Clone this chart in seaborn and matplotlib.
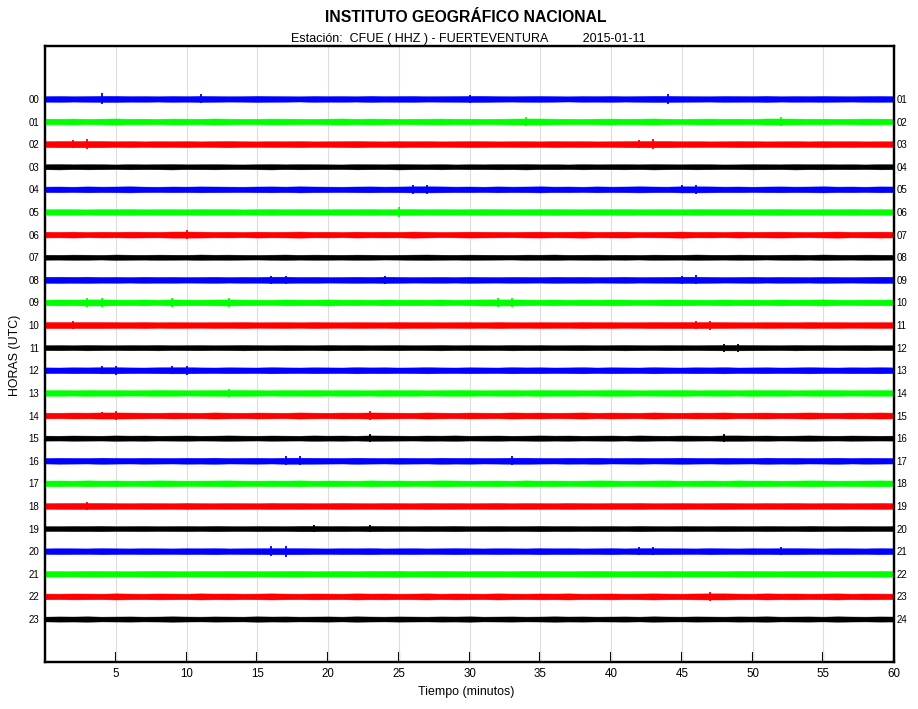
import numpy as np
import matplotlib
matplotlib.use("Agg")
import matplotlib.pyplot as plt
import seaborn as sns

# ---------------- data ----------------
hour_labels_left = [f"{h:02d}" for h in range(24)]
hour_labels_right = [f"{h:02d}" for h in range(1, 25)]
x_ticks = [5, 10, 15, 20, 25, 30, 35, 40, 45, 50, 55, 60]
trace_colors = ["#0000ff", "#00ff00", "#ff0000", "#000000"]

# peak amplitude per minute (0..60) of each hourly trace
amp_00 = [30,32,29,31,48,33,30,31,29,32,30,40,31,29,30,33,31,30,28,32,30,31,29,33,30,31,32,29,30,31,38,33,30,29,31,32,30,28,31,30,32,29,31,33,42,31,30,29,32,31,30,33,29,31,30,32,30,29,31,32,30]
amp_01 = [31,30,32,29,31,33,30,31,29,32,31,30,33,31,29,30,32,31,30,29,31,33,30,32,31,29,30,31,32,30,31,29,30,32,40,33,31,30,29,31,32,30,31,33,30,29,31,32,30,31,29,33,42,32,30,31,29,30,32,31,30]
amp_02 = [32,34,38,42,35,31,33,30,32,31,33,30,32,34,31,30,32,31,33,30,31,32,34,31,30,33,31,32,30,31,33,32,30,31,32,30,33,31,32,30,31,33,36,44,34,31,32,30,31,33,32,30,31,32,30,33,31,32,30,31,32]
amp_03 = [27,29,26,28,27,25,28,26,27,29,26,27,28,26,25,27,29,26,28,27,26,25,28,27,26,29,27,26,28,25,27,26,28,27,29,26,27,25,28,26,27,28,26,29,27,26,28,27,25,26,28,27,26,29,27,28,26,27,25,28,27]
amp_04 = [30,31,29,32,30,31,33,30,29,31,30,32,31,30,29,31,32,30,33,31,30,29,31,32,30,31,38,40,32,30,31,29,32,30,31,33,30,31,29,32,30,31,33,31,30,36,40,32,30,31,29,31,32,30,31,33,30,31,29,32,31]
amp_05 = [29,31,30,28,31,30,32,29,30,31,29,32,30,31,28,30,32,29,31,30,29,31,30,32,29,42,33,30,31,29,30,32,31,29,30,31,33,30,29,31,30,32,29,30,31,29,32,30,31,30,29,31,32,30,29,31,30,32,29,31,30]
amp_06 = [31,30,32,29,31,30,32,31,30,33,40,32,30,31,29,32,30,31,33,30,31,29,32,30,31,30,33,31,29,30,32,31,30,29,31,32,30,31,33,30,31,32,29,30,31,33,30,31,29,32,30,31,32,30,29,31,33,30,31,32,31]
amp_07 = [27,26,28,27,25,29,27,26,28,27,26,29,27,28,26,25,27,29,26,28,27,26,28,27,25,26,28,29,27,26,28,27,26,25,28,27,29,26,27,28,26,27,25,28,27,26,29,27,26,28,27,25,27,28,26,29,27,26,28,27,26]
amp_08 = [33,35,32,34,31,32,30,33,31,32,30,31,33,30,32,31,38,36,31,32,30,31,33,31,36,32,30,31,32,30,33,31,30,32,31,30,33,31,32,30,31,33,30,31,32,36,40,32,30,31,33,30,32,31,30,33,31,30,32,35,33]
amp_09 = [30,32,31,38,40,31,30,32,29,36,31,30,32,36,31,30,29,32,31,30,33,30,31,29,32,30,31,30,32,29,31,33,40,42,31,30,32,29,31,30,32,31,29,30,32,31,30,29,32,30,31,29,32,30,31,33,30,29,31,30,32]
amp_10 = [33,34,35,33,34,32,31,33,30,32,31,30,32,31,33,30,31,32,30,33,31,30,32,31,30,33,31,32,30,31,32,30,33,31,30,32,31,30,33,31,32,30,31,33,32,34,38,40,32,31,30,32,31,30,33,31,32,30,31,32,31]
amp_11 = [27,28,26,29,27,26,28,27,29,26,27,28,26,27,29,27,26,28,27,26,29,27,28,26,27,28,26,27,29,26,28,27,26,29,27,28,26,27,28,26,27,29,27,26,28,27,26,28,34,36,28,27,26,29,27,28,26,27,28,26,27]
amp_12 = [31,30,32,31,35,38,31,30,32,37,38,31,30,32,31,30,33,31,30,32,31,30,33,31,32,30,31,33,31,30,32,31,30,33,31,32,30,31,33,30,32,31,30,33,31,30,32,31,33,30,31,32,30,31,33,31,30,32,31,33,31]
amp_13 = [30,31,29,32,30,31,29,30,32,31,29,30,31,35,32,30,29,31,30,32,29,31,30,29,32,30,31,29,30,32,31,29,30,31,29,32,30,31,29,30,32,31,29,30,31,32,29,30,31,29,32,30,31,29,30,32,31,29,30,31,30]
amp_14 = [31,30,32,31,35,40,32,31,30,32,31,30,33,31,30,32,31,30,33,31,30,32,31,36,32,31,30,33,31,30,32,31,30,33,31,32,30,31,33,30,32,31,30,33,31,30,32,31,33,30,31,32,30,31,33,31,30,32,31,33,31]
amp_15 = [27,26,28,27,26,29,27,28,26,27,28,26,27,29,27,26,28,27,26,29,27,28,26,34,28,27,26,28,27,29,26,27,28,26,27,29,27,28,26,27,28,26,29,27,26,28,27,26,34,30,27,28,26,27,29,27,26,28,27,26,27]
amp_16 = [30,32,31,30,33,31,30,32,31,30,32,31,33,30,31,32,30,38,40,32,31,30,33,31,30,32,31,30,33,31,32,30,31,38,33,31,30,32,31,33,30,31,32,30,31,33,31,30,32,31,30,33,31,32,30,31,33,30,32,31,30]
amp_17 = [30,31,29,32,30,31,29,30,32,31,29,30,31,32,30,29,31,30,32,29,31,30,29,32,30,31,29,30,32,31,29,30,31,29,32,30,31,29,30,32,31,29,30,31,32,29,30,31,29,32,30,31,29,30,32,31,29,30,31,32,30]
amp_18 = [31,32,34,38,33,31,30,32,31,30,33,31,30,32,31,30,33,31,32,30,31,33,31,30,32,31,30,33,31,32,30,31,33,30,32,31,30,33,31,30,32,31,33,30,31,32,30,31,33,31,30,32,31,33,30,31,32,30,31,33,31]
amp_19 = [27,26,28,27,29,26,27,28,26,27,28,26,29,27,26,28,27,26,29,32,27,28,26,34,28,27,26,28,27,29,26,27,28,26,27,29,27,28,26,27,28,26,29,27,26,28,27,26,28,27,26,28,27,26,29,27,26,28,27,26,27]
amp_20 = [30,32,31,30,33,31,30,32,31,30,32,31,33,30,31,32,44,48,34,31,30,32,31,33,30,31,32,30,31,33,31,30,32,31,30,33,31,32,30,31,33,30,36,38,32,31,30,33,31,30,32,31,38,33,31,30,32,31,30,33,31]
amp_21 = [31,30,29,32,31,30,29,31,32,30,29,31,30,32,31,29,30,31,32,29,30,31,29,32,31,34,29,31,32,30,29,31,30,29,32,31,30,29,31,32,30,29,31,30,32,29,31,30,29,32,31,30,29,31,32,30,29,31,30,32,31]
amp_22 = [31,30,32,31,30,33,31,30,32,31,30,33,31,32,30,31,33,31,30,32,31,30,33,31,32,30,31,33,30,32,31,30,33,31,30,32,31,33,30,31,32,30,31,33,31,30,32,38,34,31,30,33,31,32,30,31,33,30,32,31,30]
amp_23 = [26,28,27,29,26,27,28,26,27,29,27,26,28,27,26,29,27,28,26,27,28,26,29,27,26,28,27,26,28,27,29,26,27,28,26,27,29,27,28,26,27,28,26,29,27,26,28,27,26,28,27,29,26,27,28,26,29,27,26,28,27]

amplitudes = [amp_00, amp_01, amp_02, amp_03, amp_04, amp_05, amp_06, amp_07,
              amp_08, amp_09, amp_10, amp_11, amp_12, amp_13, amp_14, amp_15,
              amp_16, amp_17, amp_18, amp_19, amp_20, amp_21, amp_22, amp_23]

# ---------------- style ----------------
sns.set_theme(style="white")
plt.rcParams["font.family"] = ["Liberation Sans", "DejaVu Sans"]

W, H = 918, 709
fig = plt.figure(figsize=(W / 100, H / 100), dpi=100)
ax = fig.add_axes([45 / W, 1 - 662 / H, (894 - 45) / W, (662 - 46) / H])

band_gain = 0.0041   # rows per amplitude unit for the dense body of the trace
spike_gain = 0.0050  # rows per amplitude unit for isolated peaks
for i, amp in enumerate(amplitudes):
    a = np.asarray(amp, dtype=float)
    x = np.linspace(0, 60, len(a))
    col = trace_colors[i % 4]
    med = np.median(a)
    body = np.minimum(a, med + 2) * band_gain
    ax.fill_between(x, i - body, i + body, color=col, lw=0.3, edgecolor=col, zorder=3)
    peak = a > med + 3
    ax.vlines(x[peak], i - a[peak] * spike_gain, i + a[peak] * spike_gain,
              color=col, lw=1.3, zorder=3)

ax.set_xlim(0, 60)
ax.set_ylim(24.9, -2.34)

# vertical grid
for xv in x_ticks[:-1]:
    ax.axvline(xv, color="#dcdcdc", lw=0.8, zorder=1)

ax.set_xticks(x_ticks)
ax.set_xticklabels([str(v) for v in x_ticks], fontsize=8.3)
ax.tick_params(axis="x", direction="in", length=7, width=1.5, color="black",
               pad=4, bottom=True, labelcolor="black")

ax.set_yticks(range(24))
ax.set_yticklabels(hour_labels_left, fontsize=7)
ax.tick_params(axis="y", length=0, pad=4, labelcolor="black")

axr = ax.twinx()
axr.set_ylim(ax.get_ylim())
axr.set_yticks(range(24))
axr.set_yticklabels(hour_labels_right, fontsize=7)
axr.tick_params(axis="y", length=0, pad=2, labelcolor="black")
axr.grid(False)

for a_ in (ax, axr):
    for s in a_.spines.values():
        s.set_color("black")
        s.set_linewidth(1.6)
ax.grid(False)

fig.text(466 / W, 1 - 17 / H, "INSTITUTO GEOGRÁFICO NACIONAL", ha="center", va="center",
         fontsize=11.3, fontweight="bold", color="black")
fig.text(468 / W, 1 - 39 / H,
         "Estación:  CFUE ( HHZ ) - FUERTEVENTURA          2015-01-11",
         ha="center", va="center", fontsize=9, color="black")
fig.text(466 / W, 1 - 692 / H, "Tiempo (minutos)", ha="center", va="center",
         fontsize=8.9, color="black")
fig.text(15 / W, 1 - 355 / H, "HORAS (UTC)", ha="center", va="center",
         rotation=90, fontsize=8.9, color="black")

fig.savefig("out.png", dpi=100, facecolor="white")
